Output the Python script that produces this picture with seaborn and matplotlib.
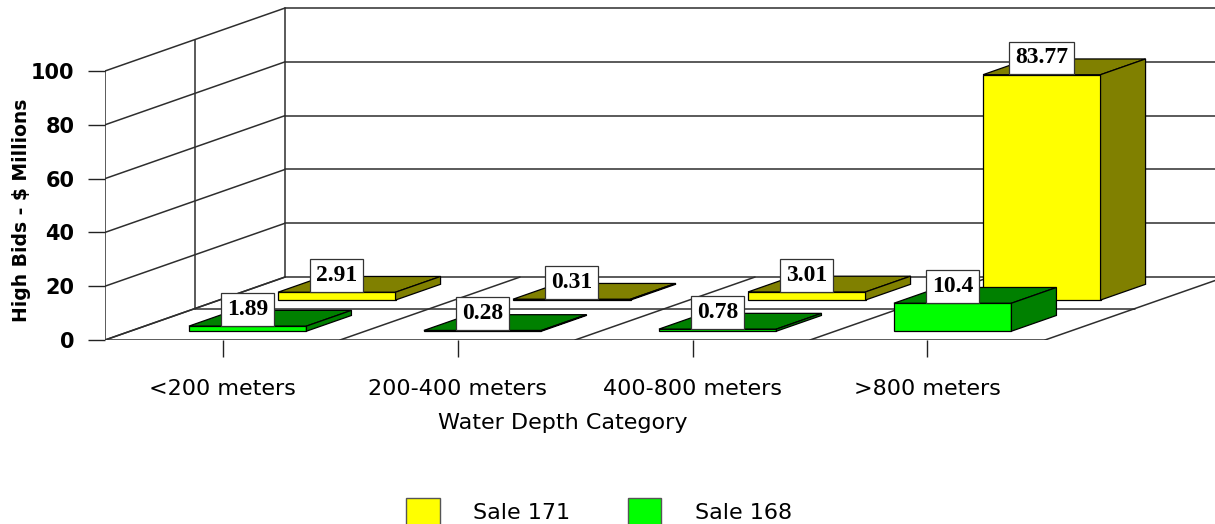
import matplotlib
matplotlib.use("Agg")
import matplotlib.pyplot as plt
import seaborn as sns
from matplotlib.patches import Polygon, Patch

categories = ["<200 meters", "200-400 meters", "400-800 meters", ">800 meters"]
sale_171 = [2.91, 0.31, 3.01, 83.77]
sale_168 = [1.89, 0.28, 0.78, 10.4]
y_ticks = [0, 20, 40, 60, 80, 100]

# oblique "3D" projection: full depth shifts x by DX categories and y by DZ value units
DX = 180 / 235
DZ = 23.4

sns.set_style("white")
plt.rcParams["font.family"] = ["DejaVu Sans"]
plt.rcParams["text.color"] = "black"

fig = plt.figure(figsize=(12.15, 5.24), dpi=100)
ax = fig.add_axes([105 / 1215, 184 / 524, 1110 / 1215, 340 / 524])

wall = dict(color="#2e2e2e", lw=1.1, zorder=0)

# back wall gridlines + left wall diagonals
for t in y_ticks:
    ax.plot([-0.5 + DX, 6], [DZ + t, DZ + t], **wall)
    ax.plot([-0.5, -0.5 + DX], [t, DZ + t], **wall)
ax.plot([-0.5 + DX, -0.5 + DX], [DZ, DZ + 100], **wall)
ax.plot([-0.5 + DX / 2, -0.5 + DX / 2], [DZ / 2, DZ / 2 + 100], **wall)
ax.plot([-0.5, -0.5], [0, 100], **wall)

# floor
ax.plot([-0.5, 3.5], [0, 0], **wall)
ax.plot([-0.5 + DX / 2, 3.5 + DX / 2], [DZ / 2, DZ / 2], **wall)
for k in range(5):
    ax.plot([-0.5 + k, -0.5 + k + DX], [0, DZ], **wall)


def draw_row(values, front, side, d0, d1, z):
    sns.barplot(x=categories, y=values, ax=ax, color=front, width=0.5,
                edgecolor="black", linewidth=0.9, saturation=1, zorder=z)
    bars = ax.containers[-1]
    ox, oz = DX * d0, DZ * d0
    bx, bz = DX * (d1 - d0), DZ * (d1 - d0)
    for p, v in zip(bars.patches, values):
        x0 = p.get_x() + ox
        w = p.get_width()
        p.set_x(x0)
        p.set_y(oz)
        top = oz + p.get_height()
        ax.add_patch(Polygon([(x0, top), (x0 + w, top), (x0 + w + bx, top + bz),
                              (x0 + bx, top + bz)], closed=True, facecolor=side,
                             edgecolor="black", lw=0.9, zorder=z))
        ax.add_patch(Polygon([(x0 + w, oz), (x0 + w + bx, oz + bz),
                              (x0 + w + bx, top + bz), (x0 + w, top)], closed=True,
                             facecolor=side, edgecolor="black", lw=0.9, zorder=z))
        ax.annotate(f"{v:g}", (x0 + w / 2, top), xytext=(0, 4.5),
                    textcoords="offset points", ha="center", va="bottom",
                    fontsize=17, fontweight="bold", family="Liberation Serif",
                    zorder=10,
                    bbox=dict(boxstyle="square,pad=0.25", fc="white", ec="#333333", lw=0.9))


draw_row(sale_171, "#ffff00", "#808000", 0.635, 0.885, 2)
draw_row(sale_168, "#00ff00", "#008000", 0.14, 0.39, 3)

ax.set_xlim(-0.5, -0.5 + 1110 / 235)
ax.set_ylim(0, 340 / 2.69)
for s in ax.spines.values():
    s.set_visible(False)
ax.set_xlabel("")
ax.set_ylabel("")
ax.set_xticks(range(len(categories)))
ax.set_xticklabels(categories)
ax.set_yticks(y_ticks)
ax.tick_params(axis="x", length=12, width=1, color="#222222", labelcolor="black",
               labelsize=16, pad=16, bottom=True)
ax.tick_params(axis="y", length=12, width=1, color="#222222", labelcolor="black",
               labelsize=15, pad=10, left=True)
for lab in ax.get_yticklabels():
    lab.set_fontweight("bold")

fig.text(563 / 1215, 1 - 423 / 524, "Water Depth Category", ha="center", va="center",
         fontsize=16, color="black")
fig.text(22 / 1215, 1 - 210 / 524, "High Bids - $ Millions", rotation=90,
         ha="center", va="center", fontsize=13.5, fontweight="bold", color="black")

handles = [Patch(facecolor="#ffff00", edgecolor="#555555", label="Sale 171"),
           Patch(facecolor="#00ff00", edgecolor="#555555", label="Sale 168")]
leg = fig.legend(handles=handles, loc="center", bbox_to_anchor=(599 / 1215, 1 - 512 / 524),
                 ncol=2, frameon=False, fontsize=16, handlelength=1.5, handleheight=1.5,
                 handletextpad=1.5, columnspacing=2.6)
for t in leg.get_texts():
    t.set_color("black")

fig.savefig("out.png", dpi=100)
